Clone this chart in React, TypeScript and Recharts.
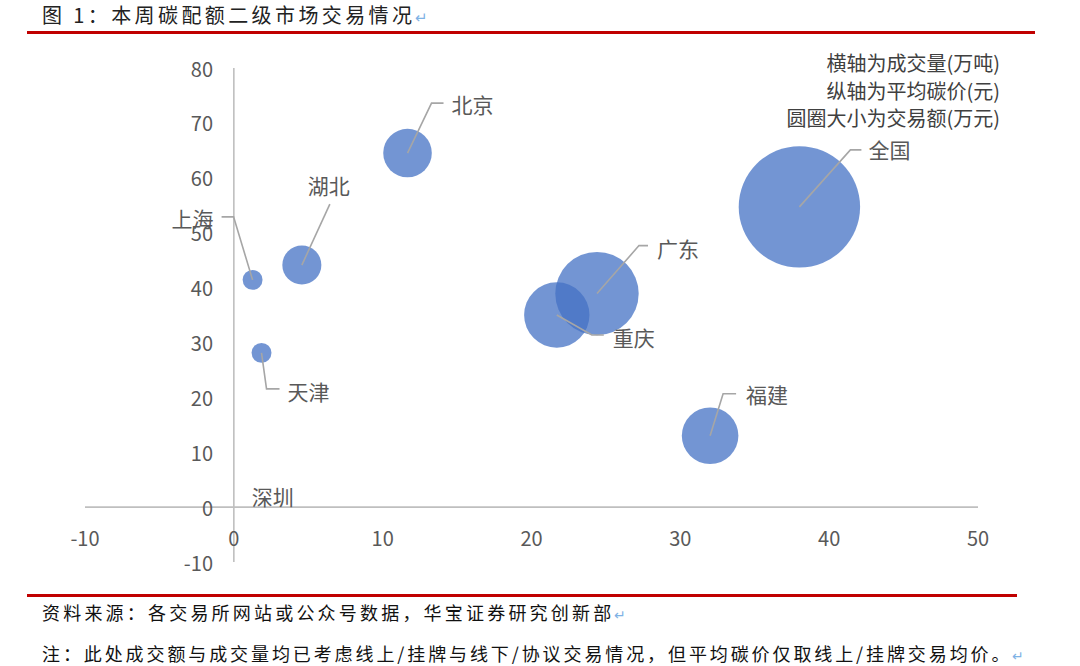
import { ScatterChart, Scatter, XAxis, YAxis, ZAxis, ReferenceLine } from 'recharts'

// 各市场：成交量(万吨)、平均碳价(元)、交易额(万元)
const regions = ['上海', '天津', '湖北', '北京', '重庆', '广东', '福建', '全国', '深圳']
const volumes = [1.26, 1.86, 4.57, 11.67, 21.7, 24.4, 32.0, 38.0, 0]
const prices = [41.4, 28.1, 44.1, 64.5, 35.0, 38.9, 13.0, 54.7, 0]
const amounts = [56, 56, 215, 333, 603, 981, 452, 2079, 0]

const xTicks = [-10, 0, 10, 20, 30, 40, 50]
const yTicks = [-10, 0, 10, 20, 30, 40, 50, 60, 70, 80]

const notes = ['横轴为成交量(万吨)', '纵轴为平均碳价(元)', '圆圈大小为交易额(万元)']

const data = regions.map((name, i) => ({ name, x: volumes[i], y: prices[i], z: amounts[i] }))

const FONT = "'Noto Sans CJK SC', 'Noto Sans', sans-serif"
const BUBBLE = '#4472C4'
const GREY_LINE = '#a6a6a6'
const LABEL_COLOR = '#595959'

// 引导线和标签相对于气泡中心的偏移（像素）
type Leader = { pts: [number, number][]; tx: number; ty: number; anchor: 'start' | 'middle' | 'end' }
const leaders: Record<string, Leader> = {
  上海: { pts: [[-19, -63], [-31, -63]], tx: -39, ty: -62, anchor: 'end' },
  天津: { pts: [[5, 36], [18, 36]], tx: 26, ty: 38, anchor: 'start' },
  湖北: { pts: [[28, -61]], tx: 27, ty: -80, anchor: 'middle' },
  北京: { pts: [[24, -50], [36, -50]], tx: 44, ty: -49, anchor: 'start' },
  重庆: { pts: [[35, 20], [47, 20]], tx: 56, ty: 22, anchor: 'start' },
  广东: { pts: [[42, -48], [51, -48]], tx: 60, ty: -46, anchor: 'start' },
  福建: { pts: [[13, -42], [26, -42]], tx: 36, ty: -42, anchor: 'start' },
  全国: { pts: [[51, -57], [62, -57]], tx: 69, ty: -58, anchor: 'start' },
  深圳: { pts: [], tx: 18, ty: -11, anchor: 'start' },
}

const Bubble = (props: any) => {
  const { cx, cy, width, size } = props
  const r = width != null ? width / 2 : Math.sqrt(Math.max(size || 0, 0) / Math.PI)
  if (!r) return <g />
  return <circle cx={cx} cy={cy} r={r} fill={BUBBLE} fillOpacity={0.75} />
}

const LeaderLabel = (props: any) => {
  const { cx, cy, payload } = props
  const l = leaders[payload.name]
  if (!l) return <g />
  const path = [[0, 0], ...l.pts].map(([dx, dy], i) => `${i ? 'L' : 'M'}${cx + dx},${cy + dy}`).join(' ')
  return (
    <g>
      {l.pts.length > 0 && <path d={path} fill="none" stroke={GREY_LINE} strokeWidth={1.6} />}
      <text
        x={cx + l.tx}
        y={cy + l.ty}
        textAnchor={l.anchor}
        dominantBaseline="central"
        fontSize={21}
        fontFamily={FONT}
        fill={LABEL_COLOR}
      >
        {payload.name}
      </text>
    </g>
  )
}

const XTick = (props: any) => (
  <text x={props.x} y={props.y - 25} textAnchor="middle" dominantBaseline="central" fontSize={20} fontFamily={FONT} fill={LABEL_COLOR}>
    {props.payload.value}
  </text>
)

const YTick = (props: any) => (
  <text x={props.x + 128} y={props.y} textAnchor="end" dominantBaseline="central" fontSize={20} fontFamily={FONT} fill={LABEL_COLOR}>
    {props.payload.value}
  </text>
)

export default function App() {
  return (
    <div style={{ position: 'absolute', left: 0, top: 0, width: 1080, height: 666, background: '#fff', fontFamily: FONT, overflow: 'hidden' }}>
      <div style={{ position: 'absolute', left: 42, top: 3, fontSize: 20, lineHeight: '24px', letterSpacing: 3.4, color: '#222', whiteSpace: 'nowrap' }}>
        图 1：本周碳配额二级市场交易情况<span style={{ color: '#7fb2e5', fontSize: 15, letterSpacing: 0 }}>↵</span>
      </div>
      <div style={{ position: 'absolute', left: 27, top: 31, width: 1008, height: 3, background: '#c00000' }} />

      <div style={{ position: 'absolute', left: 0, top: 0 }}>
        <ScatterChart width={1080} height={666} margin={{ top: 68, right: 102, bottom: 103, left: 84 }}>
          <XAxis
            type="number"
            dataKey="x"
            domain={[-10, 50]}
            ticks={xTicks}
            height={1}
            axisLine={false}
            tickLine={false}
            tickSize={0}
            tickMargin={0}
            tick={(p: any) => <XTick {...p} />}
            interval={0}
          />
          <YAxis
            type="number"
            dataKey="y"
            domain={[-10, 80]}
            ticks={yTicks}
            width={1}
            axisLine={false}
            tickLine={false}
            tickSize={0}
            tickMargin={0}
            tick={(p: any) => <YTick {...p} />}
            interval={0}
          />
          <ZAxis type="number" dataKey="z" domain={[0, 2079]} range={[0, Math.PI * 60.7 * 60.7]} />
          <ReferenceLine x={0} stroke="#bfbfbf" strokeWidth={1.6} />
          <ReferenceLine y={0} stroke="#bfbfbf" strokeWidth={1.6} />
          <Scatter data={data} shape={<Bubble />} isAnimationActive={false} />
          <Scatter data={data} shape={<LeaderLabel />} isAnimationActive={false} />
        </ScatterChart>
      </div>

      <div style={{ position: 'absolute', right: 80, top: 49, textAlign: 'right', fontSize: 20, lineHeight: '27.5px', color: '#404040', whiteSpace: 'nowrap' }}>
        {notes.map((n) => (
          <div key={n}>{n}</div>
        ))}
      </div>

      <div style={{ position: 'absolute', left: 27, top: 594, width: 990, height: 3, background: '#c00000' }} />
      <div style={{ position: 'absolute', left: 42, top: 601, fontSize: 18, lineHeight: '22px', letterSpacing: 3.2, color: '#111', whiteSpace: 'nowrap' }}>
        资料来源：各交易所网站或公众号数据，华宝证券研究创新部<span style={{ color: '#7fb2e5', fontSize: 14, letterSpacing: 0 }}>↵</span>
      </div>
      <div style={{ position: 'absolute', left: 42, top: 642, fontSize: 18, lineHeight: '22px', letterSpacing: 2.9, color: '#111', whiteSpace: 'nowrap' }}>
        注：此处成交额与成交量均已考虑线上/挂牌与线下/协议交易情况，但平均碳价仅取线上/挂牌交易均价。<span style={{ color: '#7fb2e5', fontSize: 14, letterSpacing: 0 }}>↵</span>
      </div>
    </div>
  )
}
